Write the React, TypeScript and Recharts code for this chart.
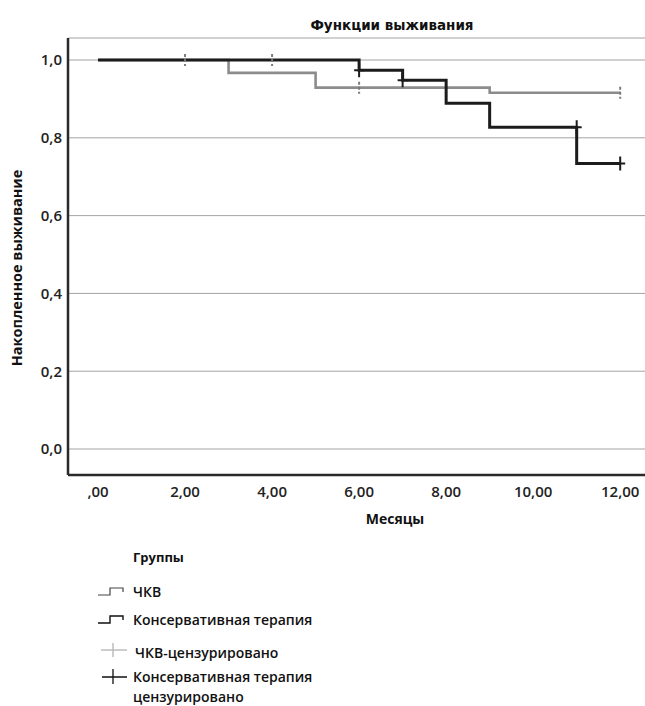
import React from 'react';
import { ComposedChart, Line, Scatter, XAxis, YAxis, CartesianGrid } from 'recharts';

// Kaplan-Meier steps (months, cumulative survival)
const pciCurve = [
  { t: 0, s: 1.0 },
  { t: 3, s: 0.967 },
  { t: 5, s: 0.929 },
  { t: 9, s: 0.916 },
  { t: 12, s: 0.916 },
];
const conservativeCurve = [
  { t: 0, s: 1.0 },
  { t: 6, s: 0.974 },
  { t: 7, s: 0.948 },
  { t: 8, s: 0.889 },
  { t: 9, s: 0.827 },
  { t: 11, s: 0.734 },
  { t: 12, s: 0.734 },
];
const pciCensored = [
  { t: 2, s: 1.0 },
  { t: 4, s: 1.0 },
  { t: 6, s: 0.929 },
  { t: 12, s: 0.916 },
];
const conservativeCensored = [
  { t: 6, s: 0.974 },
  { t: 7, s: 0.948 },
  { t: 11, s: 0.827 },
  { t: 12, s: 0.734 },
];

const xTicks = [0, 2, 4, 6, 8, 10, 12];
const yTicks = [0, 0.2, 0.4, 0.6, 0.8, 1.0];

const GRAY = '#8c8c8c';
const BLACK = '#1c1c1c';
const FONT = '"Open Sans", sans-serif';

const fmtX = (v: number) => (v === 0 ? ',00' : v.toFixed(2).replace('.', ','));
const fmtY = (v: number) => v.toFixed(1).replace('.', ',');

// censor tick: the horizontal half of the "+" sits on the curve anyway
const grayTick = (props: any) => {
  const { cx, cy } = props;
  return <path d={`M${cx},${cy - 6} V${cy + 6}`} stroke="#7a7a7a" strokeWidth={2} strokeDasharray="3 2" fill="none" />;
};

const blackPlus = (props: any) => {
  const { cx, cy } = props;
  return (
    <path d={`M${cx - 5},${cy} H${cx + 5} M${cx},${cy - 7} V${cy + 7}`} stroke={BLACK} strokeWidth={2} fill="none" />
  );
};

export default function App() {
  return (
    <div style={{ position: 'absolute', left: 0, top: 0, width: 645, height: 706, background: '#fff', fontFamily: FONT }}>
      <ComposedChart width={645} height={540} margin={{ top: 38, right: 0, bottom: 35, left: 0 }}>
        <CartesianGrid vertical={false} stroke="#a3a3a3" strokeWidth={1} />
        <XAxis
          type="number"
          dataKey="t"
          domain={[-0.69, 12.57]}
          ticks={xTicks}
          allowDataOverflow
          height={30}
          tickLine={false}
          tickMargin={5}
          tickFormatter={fmtX}
          axisLine={{ stroke: '#2a2a2a', strokeWidth: 2.5 }}
          tick={{ fill: '#222', fontSize: 15, fontWeight: 600, fontFamily: FONT }}
        />
        <YAxis
          type="number"
          dataKey="s"
          domain={[-0.0668, 1.0566]}
          ticks={yTicks}
          allowDataOverflow
          width={68}
          tickLine={false}
          tickMargin={0}
          tickFormatter={fmtY}
          axisLine={{ stroke: '#2a2a2a', strokeWidth: 2.5 }}
          tick={{ fill: '#222', fontSize: 15, fontWeight: 600, fontFamily: FONT }}
        />
        <Scatter data={pciCensored} dataKey="s" shape={grayTick} isAnimationActive={false} />
        <Line data={pciCurve} dataKey="s" type="stepAfter" stroke={GRAY} strokeWidth={2.6} dot={false} isAnimationActive={false} />
        <Line data={conservativeCurve} dataKey="s" type="stepAfter" stroke={BLACK} strokeWidth={3} dot={false} isAnimationActive={false} />
        <Scatter data={conservativeCensored} dataKey="s" shape={blackPlus} isAnimationActive={false} />
      </ComposedChart>
      <svg width={645} height={706} style={{ position: 'absolute', left: 0, top: 0, pointerEvents: 'none' }}>
        <text x={392} y={30} textAnchor="middle" fontFamily="DejaVu Sans" fontWeight="bold" fontSize={13.5} fill="#111">
          Функции выживания
        </text>
        <text
          transform="translate(22,268) rotate(-90)"
          textAnchor="middle"
          fontFamily={FONT}
          fontWeight={700}
          fontSize={14.5}
          fill="#111"
        >
          Накопленное выживание
        </text>
        <text x={395} y={524} textAnchor="middle" fontFamily={FONT} fontWeight={700} fontSize={14} fill="#111">
          Месяцы
        </text>

        <g fontFamily={FONT} fill="#111">
          <text x={133} y={562} fontWeight={700} fontSize={13}>Группы</text>
          <path d="M98,595 H110 V588 H123 V592" stroke="#444" strokeWidth={1.2} fill="none" />
          <text x={133} y={597} fontWeight={600} fontSize={14}>ЧКВ</text>
          <path d="M98,623 H110 V616 H123 V620" stroke="#111" strokeWidth={1.4} fill="none" />
          <text x={133} y={625} fontWeight={600} fontSize={14}>Консервативная терапия</text>
          <path d="M101,650 H127 M113,643 V657" stroke="#bdbdbd" strokeWidth={1.5} fill="none" />
          <text x={135} y={658} fontWeight={600} fontSize={14}>ЧКВ-цензурировано</text>
          <path d="M102,677 H127 M113,669 V684" stroke="#111" strokeWidth={1.3} fill="none" />
          <text x={133} y={682} fontWeight={600} fontSize={14}>Консервативная терапия</text>
          <text x={133} y={702} fontWeight={600} fontSize={14}>цензурировано</text>
        </g>
      </svg>
    </div>
  );
}
